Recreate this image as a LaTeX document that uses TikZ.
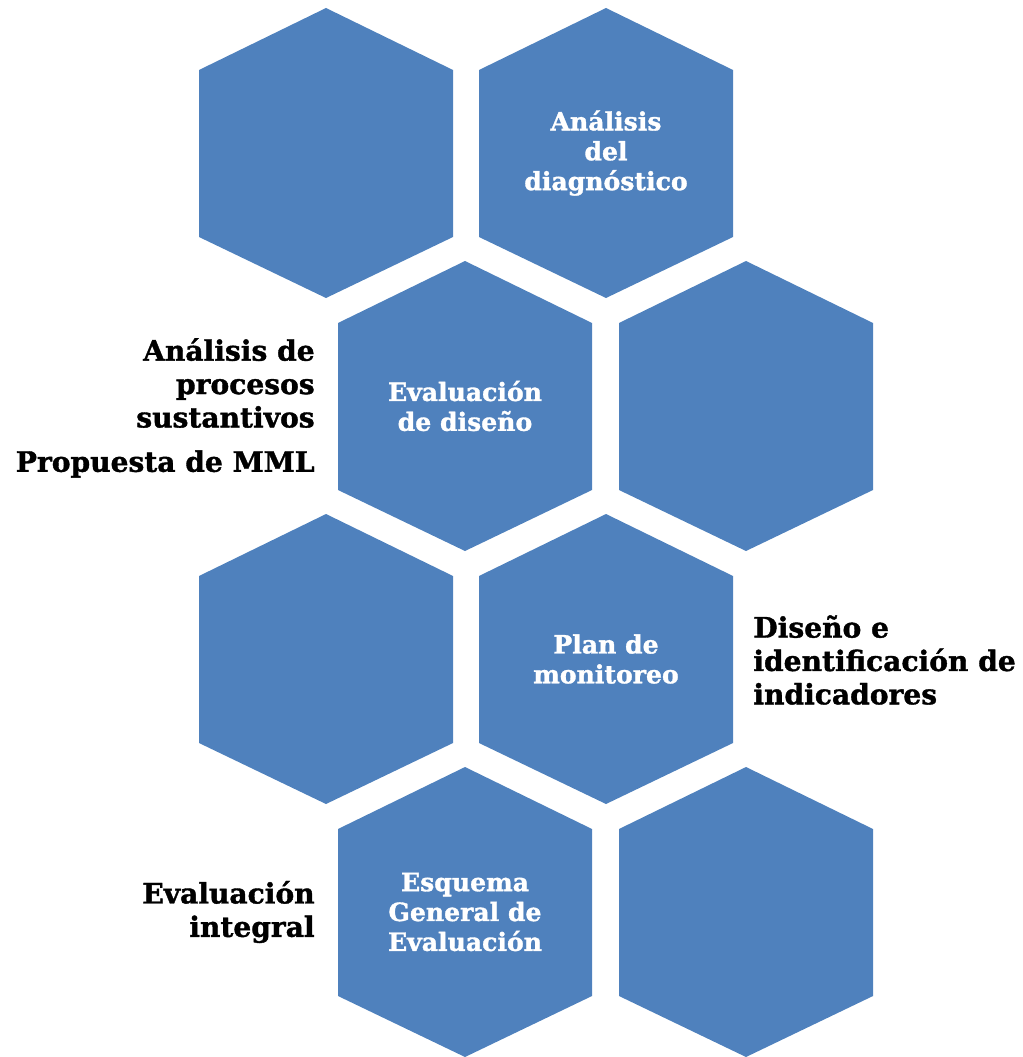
\documentclass[tikz,border=0pt]{standalone}
\usepackage{fontspec}
\setmainfont{DejaVu Serif}[BoldFeatures={FakeBold=1.3}]
\definecolor{hexblue}{HTML}{4F81BD}
\tikzset{
  hexfill/.style={fill=hexblue},
  intext/.style={align=center,text=white,font=\bfseries\fontsize{14.3}{17}\selectfont},
  outtext/.style={inner sep=0pt,font=\bfseries\fontsize{16}{19}\selectfont}
}
\begin{document}
\begin{tikzpicture}[x=0.02cm,y=-0.02cm]
\useasboundingbox (0,0) rectangle (1022,1057);
\foreach \n/\x/\y in {a/326/153,b/606/153,c/465/406,d/746/406,e/326/659,f/606/659,g/465/912,h/746/912}{
  \fill[hexfill](\x,\y-145)--(\x+127,\y-83)--(\x+127,\y+84)--(\x,\y+145)--(\x-127,\y+84)--(\x-127,\y-83)--cycle;
  \coordinate (\n) at (\x,\y);
}
\node[intext] (diag) at (b) {Análisis\\del\\diagnóstico};
\node[intext] (dis) at (c) {Evaluación\\de diseño};
\node[intext] (plan) at (f) {Plan de\\monitoreo};
\node[intext] (esq) at (g) {Esquema\\General de\\Evaluación};
\node[outtext,align=right,anchor=east] (proc) at (315,383) {Análisis de\\procesos\\sustantivos};
\node[outtext,anchor=east] (mml) at (315,464) {Propuesta de MML};
\node[outtext,align=left,anchor=west] (ind) at (753,660) {Diseño e\\identificación de\\indicadores};
\node[outtext,align=right,anchor=east] (int) at (315,912) {Evaluación\\integral};
\end{tikzpicture}
\end{document}
